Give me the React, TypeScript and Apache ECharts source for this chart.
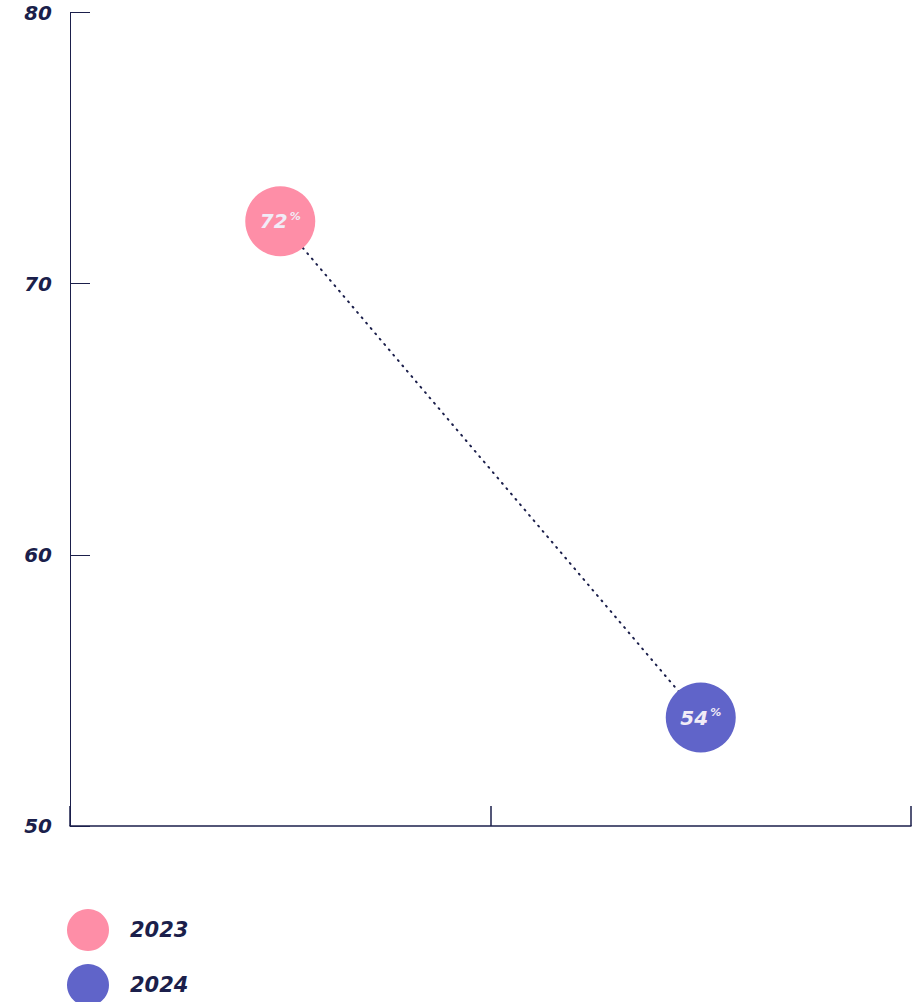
import React, { useEffect, useRef } from "react";
import * as echarts from "echarts";

const categories = ["2023", "2024"];
const values2023 = [72.3, "-"];
const values2024 = ["-", 54];
const connector = [72.3, 54];
const yTicks = { min: 50, max: 80, interval: 10 };

const NAVY = "#1b1f4b";
const PINK = "#fe8ea7";
const BLUE = "#6064c9";
const FONT = "DejaVu Sans";

const pointLabel = {
  show: true,
  position: "inside",
  formatter: (p: any) => `{v|${Math.round(p.value)}}{p|%}`,
  rich: {
    v: { fontFamily: FONT, fontSize: 20, fontWeight: "bold", fontStyle: "italic", color: "#f1ecf7" },
    p: { fontFamily: FONT, fontSize: 11, fontWeight: "bold", fontStyle: "italic", color: "#f1ecf7", padding: [0, 0, 10, 2] },
  },
};

export default function App() {
  const ref = useRef<HTMLDivElement>(null);
  useEffect(() => {
    const chart = echarts.init(ref.current!, null, { renderer: "svg" });
    chart.setOption({
      animation: false,
      backgroundColor: "#ffffff",
      grid: { left: 70, right: 3, top: 12.5, bottom: 176, containLabel: false },
      legend: {
        data: categories,
        orient: "vertical",
        left: 67,
        top: 909,
        height: 140,
        padding: 0,
        icon: "circle",
        itemWidth: 42,
        itemHeight: 42,
        itemGap: 13,
        textStyle: { fontFamily: FONT, fontSize: 21, fontWeight: "bold", fontStyle: "italic", color: NAVY, padding: [0, 0, 0, 16] },
      },
      xAxis: {
        type: "category",
        data: categories,
        boundaryGap: true,
        axisLine: { show: true, lineStyle: { color: NAVY, width: 1.5 } },
        axisTick: { show: true, inside: true, length: 20, lineStyle: { color: NAVY, width: 1.5 } },
        axisLabel: { show: false },
        splitLine: { show: false },
      },
      yAxis: {
        type: "value",
        min: yTicks.min,
        max: yTicks.max,
        interval: yTicks.interval,
        axisLine: { show: true, lineStyle: { color: NAVY, width: 1 } },
        axisTick: { show: true, inside: true, length: 20, lineStyle: { color: NAVY, width: 1 } },
        axisLabel: { fontFamily: FONT, fontSize: 20, fontWeight: "bold", fontStyle: "italic", color: NAVY, margin: 18 },
        splitLine: { show: false },
      },
      series: [
        {
          name: "connector",
          type: "line",
          data: connector,
          showSymbol: false,
          symbol: "none",
          silent: true,
          lineStyle: { color: NAVY, width: 2, type: [1, 6], cap: "round" },
          z: 1,
        },
        {
          name: "2023",
          type: "scatter",
          data: values2023,
          symbolSize: 70,
          itemStyle: { color: PINK, opacity: 1 },
          label: pointLabel,
          z: 3,
        },
        {
          name: "2024",
          type: "scatter",
          data: values2024,
          symbolSize: 70,
          itemStyle: { color: BLUE, opacity: 1 },
          label: pointLabel,
          z: 3,
        },
      ],
    });
    return () => chart.dispose();
  }, []);
  return <div ref={ref} style={{ position: "fixed", left: 0, top: 0, width: 914, height: 1002 }} />;
}
